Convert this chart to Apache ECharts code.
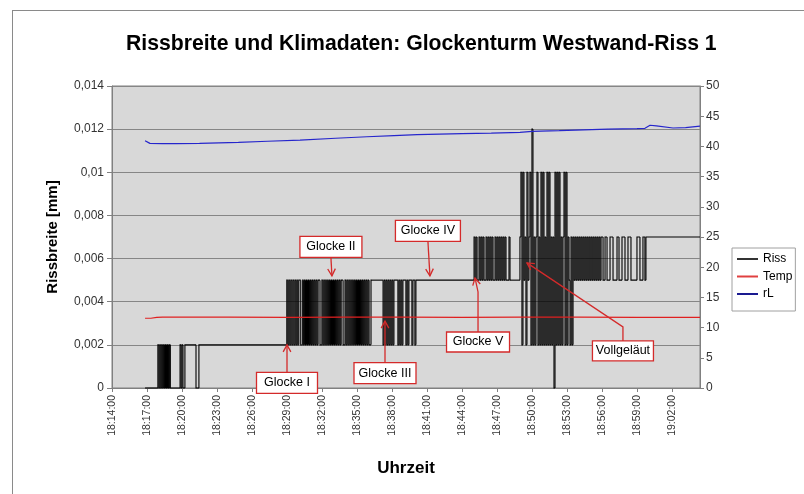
<!DOCTYPE html>
<html>
<head>
<meta charset="utf-8">
<script src="https://cdn.jsdelivr.net/npm/echarts@6/dist/echarts.min.js"></script>
<style>
html,body{margin:0;padding:0;background:#fff;}
#chart{width:804px;height:494px;}
</style>
</head>
<body>
<div id="chart"></div>
<script>
// ---------- DATA ----------
// time in seconds after 18:14:00
const startClock = 18 * 3600 + 14 * 60;
const xTickStep = 180;            // 3 minutes between tick labels
const xEnd = 3024;                // right edge of the plot (~19:04:24)

// Riss: level codes -> crack width in mm
const rissLevels = [0, 0.002, 0.005, 0.007, 0.010, 0.012];
// [start s, end s, level codes read left to right]
const rissSegments = [
  [170, 236, "0"],
  [236, 300, "1010101010101"],
  [300, 350, "0"],
  [350, 370, "1010"],
  [370, 375, "0"],
  [375, 432, "1"],
  [432, 447, "0"],
  [447, 899, "1"],
  [899, 941, "21212121"],
  [941, 1337, "2121221121" + "2121212121" + "2121221121" + "2121212121" + "2121212122" + "1121212121" + "2121212121" + "2121212112"],
  [1337, 1394, "2"],
  [1394, 1455, "121212121212"],
  [1455, 1563, "222121212221212221221"],
  [1563, 1862, "2"],
  [1862, 2052, "3232" + "2323" + "2322" + "3232" + "3232" + "2323" + "2323" + "2323" + "22232"],
  [2052, 2098, "2"],
  [2098, 2510, "3414231423" + "4151313413" + "1414131414" + "1313041414" + "1313414132" + "1313" + "23232323232323232323232323"],
  [2510, 2746, "2332233222" + "3332222332" + "2233322233" + "3222222333" + "222332"],
  [2746, 3024, "3"]
];

// Temp (right axis)
const tempTime  = [170, 200, 230, 260, 600, 900, 1200, 1500, 1800, 2100, 2400, 2700, 3024];
const tempValue = [11.55, 11.55, 11.7, 11.75, 11.75, 11.7, 11.75, 11.75, 11.7, 11.75, 11.75, 11.7, 11.7];

// rL (right axis)
const rlTime  = [170, 195, 260, 330, 450, 650, 800, 967, 1150, 1311, 1450, 1569, 1800, 1950, 2098, 2160, 2300, 2551, 2700, 2741, 2767, 2800, 2885, 2950, 3024];
const rlValue = [40.94, 40.5, 40.45, 40.45, 40.5, 40.68, 40.85, 41.05, 41.35, 41.6, 41.8, 41.94, 42.1, 42.2, 42.33, 42.5, 42.6, 42.85, 42.95, 43.0, 43.5, 43.4, 43.05, 43.1, 43.35];

// Annotations: label, arrow tip (time s, Riss mm)
const annoLabels = ['Glocke I', 'Glocke II', 'Glocke III', 'Glocke IV', 'Glocke V', 'Vollgeläut'];
const annoTime   = [900, 1131, 1404, 1635, 1867, 2134];
const annoValue  = [0.002, 0.0052, 0.0031, 0.0052, 0.0051, 0.0058];

// ---------- BUILD ----------
const rissPts = [];
rissSegments.forEach(function (seg) {
  const n = seg[2].length;
  const step = (seg[1] - seg[0]) / n;
  for (let k = 0; k < n; k++) {
    rissPts.push([seg[0] + k * step, rissLevels[+seg[2][k]]]);
  }
});
const lastSeg = rissSegments[rissSegments.length - 1];
// step items: [t, value, t of next sample, previous value]
const rissData = rissPts.map(function (p, i) {
  const next = i < rissPts.length - 1 ? rissPts[i + 1][0] : lastSeg[1];
  const prev = i > 0 ? rissPts[i - 1][1] : p[1];
  return [p[0], p[1], next, prev];
});
const tempData = tempTime.map((t, i) => [t, tempValue[i]]);
const rlData = rlTime.map((t, i) => [t, rlValue[i]]);

function pad(n) { return (n < 10 ? '0' : '') + n; }
function clock(v) {
  const s = startClock + v;
  return Math.floor(s / 3600) + ':' + pad(Math.floor(s / 60) % 60) + ':' + pad(s % 60);
}

const FONT = 'Liberation Sans, Arial, sans-serif';
const chart = echarts.init(document.getElementById('chart'), null, { renderer: 'canvas' });

chart.setOption({
  animation: false,
  backgroundColor: '#ffffff',
  textStyle: { fontFamily: FONT },
  title: {
    text: 'Rissbreite und Klimadaten: Glockenturm Westwand-Riss 1',
    left: 126, top: 34, padding: 0,
    textStyle: { fontFamily: FONT, fontSize: 21.2, fontWeight: 'bold', color: '#000' }
  },
  legend: {
    orient: 'vertical',
    left: 732, top: 248,
    padding: [5, 3, 11, 5],
    itemGap: 5.5,
    itemWidth: 21, itemHeight: 2,
    icon: 'rect',
    borderColor: '#a0a0a0', borderWidth: 1,
    backgroundColor: '#ffffff',
    textStyle: { fontFamily: FONT, fontSize: 12, color: '#000' },
    data: ['Riss', 'Temp', 'rL']
  },
  grid: {
    left: 112, right: 104, top: 86, bottom: 106,
    show: true, backgroundColor: '#d8d8d8', borderColor: '#808080', borderWidth: 1
  },
  xAxis: {
    type: 'value', min: 0, max: xEnd, interval: xTickStep,
    name: 'Uhrzeit', nameLocation: 'middle', nameGap: 72,
    nameTextStyle: { fontFamily: FONT, fontSize: 17, fontWeight: 'bold', color: '#000' },
    axisLine: { lineStyle: { color: '#808080' } },
    axisTick: { length: 4, lineStyle: { color: '#808080' } },
    splitLine: { show: false },
    axisLabel: {
      rotate: 90, fontSize: 10.5, color: '#333', margin: 7, showMaxLabel: false,
      formatter: function (v) { return (v % xTickStep === 0) ? clock(v) : ''; }
    }
  },
  yAxis: [
    {
      type: 'value', min: 0, max: 0.014, interval: 0.002,
      name: 'Rissbreite [mm]', nameLocation: 'middle', nameGap: 52,
      nameTextStyle: { fontFamily: FONT, fontSize: 15, fontWeight: 'bold', color: '#000' },
      axisLine: { show: true, lineStyle: { color: '#808080' } },
      axisTick: { show: true, length: 5, lineStyle: { color: '#808080' } },
      splitLine: { show: true, lineStyle: { color: '#868686', width: 1 } },
      axisLabel: {
        fontSize: 12, color: '#333', margin: 8,
        formatter: function (v) { return String(parseFloat(v.toFixed(4))).replace('.', ','); }
      }
    },
    {
      type: 'value', min: 0, max: 50, interval: 5, position: 'right',
      axisLine: { show: true, lineStyle: { color: '#808080' } },
      axisTick: { show: true, length: 4, lineStyle: { color: '#808080' } },
      splitLine: { show: false },
      axisLabel: { fontSize: 12, color: '#333', margin: 6 }
    }
  ],
  series: [
    {
      name: 'Riss', type: 'custom', yAxisIndex: 0, data: rissData,
      encode: { x: [0, 2], y: [1, 3] },
      itemStyle: { color: '#333333' }, z: 3,
      renderItem: function (params, api) {
        const a = api.coord([api.value(0), api.value(3)]);
        const b = api.coord([api.value(0), api.value(1)]);
        const c = api.coord([api.value(2), api.value(1)]);
        return {
          type: 'polyline',
          shape: { points: [a, b, c] },
          style: { stroke: '#000000', lineWidth: 1.1, fill: null }
        };
      }
    },
    {
      name: 'Temp', type: 'line', yAxisIndex: 1, data: tempData,
      showSymbol: false, symbol: 'none',
      lineStyle: { color: '#e02020', width: 1.2 }, itemStyle: { color: '#e04040' }, z: 4
    },
    {
      name: 'rL', type: 'line', yAxisIndex: 1, data: rlData,
      showSymbol: false, symbol: 'none',
      lineStyle: { color: '#2626cc', width: 1.2 }, itemStyle: { color: '#1a1a90' }, z: 4
    }
  ]
});

// ---------- ANNOTATIONS (placed from data coordinates) ----------
// box centre offset from the arrow tip, in pixels, and box size
const annoLayout = [
  { dx: 0,  dy: 38,  w: 61, h: 21 },
  { dx: -1, dy: -29, w: 62, h: 21 },
  { dx: 0,  dy: 52,  w: 62, h: 21 },
  { dx: -2, dy: -45, w: 65, h: 21 },
  { dx: 3,  dy: 64,  w: 63, h: 20, bend: [3, 14] },
  { dx: 96, dy: 88,  w: 61, h: 20, bend: [96, 64] }
];
const RED = '#d42a2a';
const graphics = [
  { type: 'line', shape: { x1: 12.5, y1: 10, x2: 12.5, y2: 494 }, style: { stroke: '#8a8a8a', lineWidth: 1 }, silent: true },
  { type: 'line', shape: { x1: 12, y1: 10.5, x2: 804, y2: 10.5 }, style: { stroke: '#8a8a8a', lineWidth: 1 }, silent: true }
];
annoLabels.forEach(function (lab, i) {
  const tx = chart.convertToPixel({ xAxisIndex: 0 }, annoTime[i]);
  const ty = chart.convertToPixel({ yAxisIndex: 0 }, annoValue[i]);
  const L = annoLayout[i];
  const cx = tx + L.dx, cy = ty + L.dy;
  const below = L.dy > 0;
  const sx = cx, sy = below ? cy - L.h / 2 : cy + L.h / 2;
  const pts = [[sx, sy]];
  if (L.bend) pts.push([tx + L.bend[0], ty + L.bend[1]]);
  pts.push([tx, ty]);
  graphics.push({ type: 'polyline', shape: { points: pts }, style: { stroke: RED, lineWidth: 1.3, fill: null }, z: 100 });
  const p = pts[pts.length - 2];
  const ang = Math.atan2(ty - p[1], tx - p[0]);
  const hl = 8, ha = 0.5;
  graphics.push({ type: 'polyline', shape: { points: [
    [tx - hl * Math.cos(ang - ha), ty - hl * Math.sin(ang - ha)],
    [tx, ty],
    [tx - hl * Math.cos(ang + ha), ty - hl * Math.sin(ang + ha)]
  ] }, style: { stroke: RED, lineWidth: 1.3, fill: null }, z: 100 });
  graphics.push({ type: 'rect', shape: { x: cx - L.w / 2, y: cy - L.h / 2, width: L.w, height: L.h },
    style: { fill: '#ffffff', stroke: RED, lineWidth: 1.3 }, z: 101 });
  graphics.push({ type: 'text', x: cx, y: cy, z: 102,
    style: { text: lab, fill: '#000', font: '12.5px ' + FONT, align: 'center', verticalAlign: 'middle' } });
});
chart.setOption({ graphic: graphics });
</script>
</body>
</html>
